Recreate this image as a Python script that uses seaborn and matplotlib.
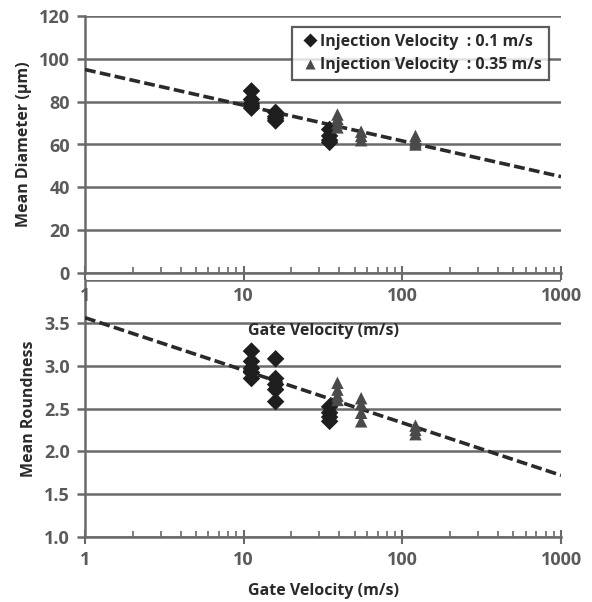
import numpy as np
import pandas as pd
import matplotlib
matplotlib.use("Agg")
import matplotlib.pyplot as plt
import seaborn as sns
from matplotlib.ticker import LogLocator, NullFormatter

# ---------------- data ----------------
series_names = ["Injection Velocity  : 0.1 m/s", "Injection Velocity  : 0.35 m/s"]

# Injection velocity 0.1 m/s (diamonds)
d01_gate = [11.2, 11.2, 11.2, 11.2, 11.2, 15.9, 15.9, 15.9, 15.9, 34.8, 34.8, 34.8, 34.8]
d01_diam = [85, 81, 79, 78, 77, 75, 73, 72, 71, 67, 64, 62, 61]
r01_gate = [11.2, 11.2, 11.2, 11.2, 11.2, 15.9, 15.9, 15.9, 15.9, 15.9, 34.8, 34.8, 34.8, 34.8]
r01_round = [3.17, 3.05, 2.97, 2.92, 2.85, 3.08, 2.85, 2.78, 2.72, 2.58, 2.52, 2.45, 2.40, 2.35]

# Injection velocity 0.35 m/s (triangles)
d035_gate = [39, 39, 39, 39, 55, 55, 55, 121, 121, 121, 121]
d035_diam = [74, 72, 70, 68, 66, 64, 62, 64, 62, 61, 60]
r035_gate = [39, 39, 39, 39, 55, 55, 55, 55, 121, 121, 121]
r035_round = [2.80, 2.72, 2.65, 2.60, 2.62, 2.55, 2.45, 2.35, 2.30, 2.25, 2.20]

# logarithmic trend lines (end points)
trend_gate = [1, 1000]
trend_diam = [95, 45]
trend_round = [3.56, 1.72]

x_ticks = [1, 10, 100, 1000]
x_ticklabels = ["1", "10", "100", "1000"]
diam_ticks = [0, 20, 40, 60, 80, 100, 120]
diam_ticklabels = ["0", "20", "40", "60", "80", "100", "120"]
round_ticks = [1.0, 1.5, 2.0, 2.5, 3.0, 3.5, 4.0]
round_ticklabels = ["1.0", "1.5", "2.0", "2.5", "3.0", "3.5", ""]

# ---------------- build tables ----------------
df_diam = pd.DataFrame({
    "gate": d01_gate + d035_gate,
    "value": d01_diam + d035_diam,
    "series": [series_names[0]] * len(d01_gate) + [series_names[1]] * len(d035_gate),
})
df_round = pd.DataFrame({
    "gate": r01_gate + r035_gate,
    "value": r01_round + r035_round,
    "series": [series_names[0]] * len(r01_gate) + [series_names[1]] * len(r035_gate),
})
df_trend_d = pd.DataFrame({"gate": trend_gate, "value": trend_diam})
df_trend_r = pd.DataFrame({"gate": trend_gate, "value": trend_round})

# ---------------- style ----------------
sns.set_theme(style="white")
plt.rcParams["font.family"] = ["Open Sans", "DejaVu Sans"]
plt.rcParams["font.weight"] = "bold"

W, H = 592, 602
fig = plt.figure(figsize=(W / 100, H / 100), dpi=100)

def axrect(l, r, t, b):
    return [l / W, 1 - b / H, (r - l) / W, (b - t) / H]

ax_bot = fig.add_axes(axrect(85, 561, 280, 537))
ax_top = fig.add_axes(axrect(85, 561, 16, 273))

palette = {series_names[0]: "#1e1e1e", series_names[1]: "#4a4a4a"}
markers = {series_names[0]: "D", series_names[1]: "^"}
sizes_kw = dict(s=80)

grid_col = "#6a6a6a"
tick_col = "#5a5a5a"
label_col = "#2a2a2a"

def style_axes(ax, yticks, ylabels, ylim, ylabel):
    ax.set_xscale("log")
    ax.set_xlim(1, 1000)
    ax.set_ylim(*ylim)
    ax.set_yticks(yticks)
    ax.set_yticklabels(ylabels)
    ax.set_xticks(x_ticks)
    ax.set_xticklabels(x_ticklabels)
    ax.xaxis.set_minor_locator(LogLocator(base=10, subs=np.arange(2, 10)))
    ax.xaxis.set_minor_formatter(NullFormatter())
    for yv in yticks:
        ax.axhline(yv, color=grid_col, lw=1.8, zorder=0)
    for side in ["top", "right"]:
        ax.spines[side].set_visible(False)
    ax.spines["left"].set_color(grid_col)
    ax.spines["left"].set_linewidth(1.8)
    ax.spines["bottom"].set_color(grid_col)
    ax.spines["bottom"].set_linewidth(1.8)
    ax.tick_params(axis="y", which="major", direction="out", length=6, width=1.8,
                   color=grid_col, labelsize=13, labelcolor=tick_col, pad=5, left=True)
    ax.tick_params(axis="x", which="major", direction="inout", length=10, width=1.5,
                   color=grid_col, labelsize=13, labelcolor=tick_col, pad=5, bottom=True)
    ax.tick_params(axis="x", which="minor", direction="in", length=4, width=1.2,
                   color=grid_col, bottom=True)
    for lab in ax.get_xticklabels() + ax.get_yticklabels():
        lab.set_fontweight("bold")
    ax.set_xlabel("Gate Velocity (m/s)", fontsize=11.5, fontweight="bold", color=label_col, labelpad=10)
    ax.set_ylabel(ylabel, fontsize=11.5, fontweight="bold", color=label_col, labelpad=5)

# ---- bottom panel ----
sns.lineplot(data=df_trend_r, x="gate", y="value", ax=ax_bot, color="#2a2a2a",
             lw=2.6, linestyle=(0, (3, 1.2)), zorder=3)
sns.scatterplot(data=df_round, x="gate", y="value", hue="series", style="series",
                palette=palette, markers=markers, ax=ax_bot, edgecolor="none",
                legend=False, zorder=4, **sizes_kw)
style_axes(ax_bot, round_ticks, round_ticklabels, (1.0, 4.0), "Mean Roundness")
ax_bot.yaxis.get_major_ticks()[-1].tick1line.set_visible(False)

# ---- top panel ----
sns.lineplot(data=df_trend_d, x="gate", y="value", ax=ax_top, color="#2a2a2a",
             lw=2.6, linestyle=(0, (3, 1.2)), zorder=3)
sns.scatterplot(data=df_diam, x="gate", y="value", hue="series", style="series",
                palette=palette, markers=markers, ax=ax_top, edgecolor="none",
                zorder=4, **sizes_kw)
style_axes(ax_top, diam_ticks, diam_ticklabels, (0, 120), "Mean Diameter (μm)")
ax_top.xaxis.labelpad = 13

leg = ax_top.legend(loc="upper right", bbox_to_anchor=(0.975, 0.958), frameon=True,
                    fancybox=False, edgecolor="#333333", fontsize=11.5,
                    handletextpad=0.0, borderpad=0.45, labelspacing=0.45,
                    handlelength=1.3, borderaxespad=0.0, markerscale=0.85)
leg.get_frame().set_linewidth(1.6)
for t in leg.get_texts():
    t.set_fontweight("bold")
    t.set_color(label_col)

fig.savefig("out.png", dpi=100, facecolor="white")
